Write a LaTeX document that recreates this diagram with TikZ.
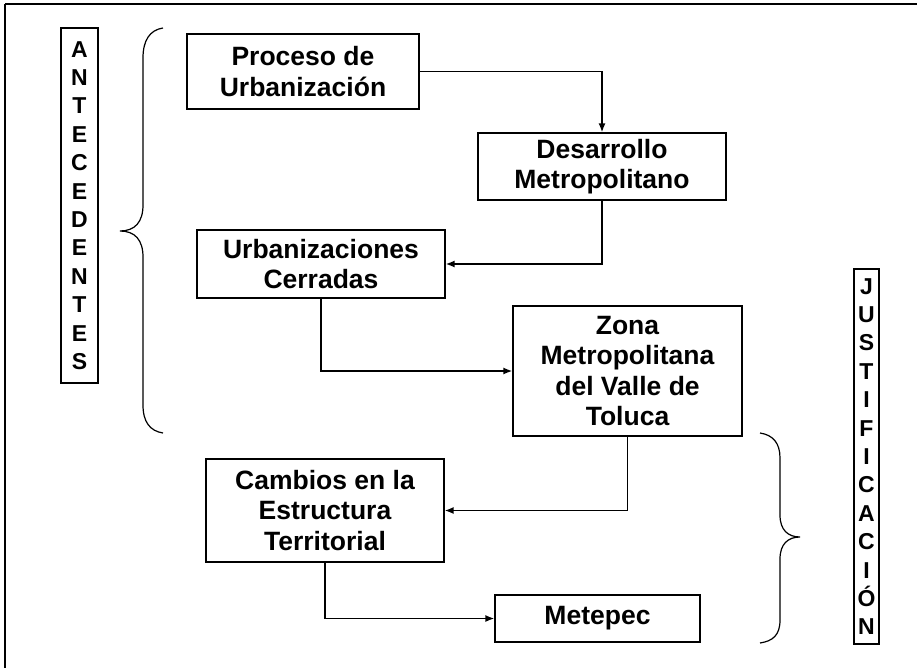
\documentclass[tikz,border=0pt]{standalone}
\usepackage{fontspec}
\setmainfont{Liberation Sans}
\usetikzlibrary{arrows.meta}

\begin{document}
\begin{tikzpicture}[x=1pt,y=-1pt,>={Latex[length=9pt,width=7pt]},line width=1.2pt,
                    box/.style={draw,rectangle,align=center,inner sep=0pt,font=\fontsize{26.5}{30.5}\selectfont\bfseries},
                    side label/.style={draw,rectangle,align=center,inner sep=0pt,font=\fontsize{23}{28.4}\selectfont\bfseries}]

  \useasboundingbox (0,0) rectangle (917,668);
  \draw (5,668) -- (5,4);
  \draw[line width=2pt] (5,4) -- (917,4);

  \node[side label,minimum width=37,minimum height=355] (ante) at (79.5,205.5)
    {A\\N\\T\\E\\C\\E\\D\\E\\N\\T\\E\\S};
  \node[side label,minimum width=25,minimum height=375] (just) at (866.5,456.5)
    {J\\U\\S\\T\\I\\F\\I\\C\\A\\C\\I\\Ó\\N};

  \node[box,minimum width=232,minimum height=75] (proceso) at (303,71.5) {Proceso de\\Urbanización};
  \node[box,minimum width=248,minimum height=67] (desarrollo) at (602,166.5) {Desarrollo\\Metropolitano};
  \node[box,minimum width=248,minimum height=68] (urban) at (321,264) {Urbanizaciones\\Cerradas};
  \node[box,minimum width=229,minimum height=130] (zona) at (627.5,371) {Zona\\Metropolitana\\del Valle de\\Toluca};
  \node[box,minimum width=238,minimum height=103] (cambios) at (325,510.5) {Cambios en la\\Estructura\\Territorial};
  \node[box,minimum width=205,minimum height=47] (metepec) at (597.5,618.5) {Metepec};

  \draw[->,line width=1.6pt] (proceso.east) -| (desarrollo.north);
  \draw[->,line width=1.6pt] (desarrollo.south) |- (urban.east);
  \draw[->,line width=1.6pt] (urban.south) |- (zona.west);
  \draw[->,line width=1.6pt] (zona.south) |- (cambios.east);
  \draw[->,line width=1.6pt] (cambios.south) |- (metepec.west);

  % braces
  \draw (163,28) .. controls (150,30) and (143,40) .. (143,58) -- (143,205)
    .. controls (143,222) and (135,231) .. (120,231)
    .. controls (135,231) and (143,240) .. (143,257) -- (143,405)
    .. controls (143,422) and (150,431) .. (163,433);
  \draw (760,433) .. controls (773,435) and (780,443) .. (780,458) -- (780,515)
    .. controls (780,530) and (788,537) .. (800,537)
    .. controls (788,537) and (780,544) .. (780,559) -- (780,620)
    .. controls (780,635) and (773,641) .. (760,643);
\end{tikzpicture}
\end{document}
